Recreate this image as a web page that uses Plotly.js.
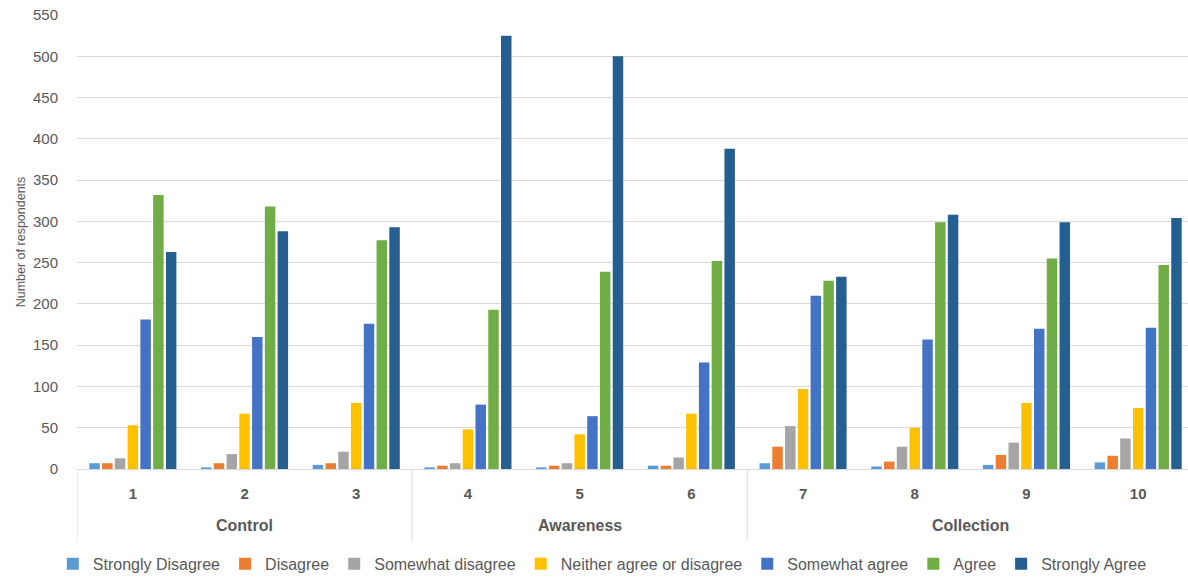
<!DOCTYPE html>
<html>
<head>
<meta charset="utf-8">
<script src="https://cdn.plot.ly/plotly-3.0.1.min.js"></script>
<style>
  html, body { margin: 0; padding: 0; background: #ffffff; }
  #chart { width: 1188px; height: 578px; }
</style>
</head>
<body>
<div id="chart"></div>
<script>
// Question numbers along the x axis and the section each belongs to
const questions = ["1", "2", "3", "4", "5", "6", "7", "8", "9", "10"];
const sections = ["Control", "Awareness", "Collection"];
const sectionSpans = [[0, 2], [3, 5], [6, 9]];

// Response counts per answer option, one value per question
const stronglyDisagree = [7, 2, 5, 2, 2, 4, 7, 3, 5, 8];
const disagree         = [7, 7, 7, 4, 4, 4, 27, 9, 17, 16];
const somewhatDisagree = [13, 18, 21, 7, 7, 14, 52, 27, 32, 37];
const neither          = [53, 67, 80, 48, 42, 67, 97, 50, 80, 74];
const somewhatAgree    = [181, 160, 176, 78, 64, 129, 210, 157, 170, 171];
const agree            = [332, 318, 277, 193, 239, 252, 228, 299, 255, 247];
const stronglyAgree    = [263, 288, 293, 525, 500, 388, 233, 308, 299, 304];

const seriesNames = ["Strongly Disagree", "Disagree", "Somewhat disagree",
  "Neither agree or disagree", "Somewhat agree", "Agree", "Strongly Agree"];
const seriesValues = [stronglyDisagree, disagree, somewhatDisagree, neither,
  somewhatAgree, agree, stronglyAgree];
const seriesColors = ["#5B9BD5", "#ED7D31", "#A5A5A5", "#FFC000",
  "#4472C4", "#70AD47", "#255E91"];

const textGrey = "#595959";
const gridGrey = "#d9d9d9";
const baseFont = "Liberation Sans, Arial, sans-serif";

const traces = seriesNames.map((name, i) => ({
  type: "bar",
  name: name,
  x: questions,
  y: seriesValues[i],
  marker: { color: seriesColors[i] },
  hovertemplate: name + ": %{y}<extra>Q%{x}</extra>"
}));

// Section labels under the question numbers, plus divider lines
const annotations = sections.map((s, i) => ({
  text: "<b>" + s + "</b>",
  xref: "x", yref: "paper",
  x: (sectionSpans[i][0] + sectionSpans[i][1]) / 2,
  y: -0.125,
  yanchor: "middle",
  showarrow: false,
  font: { family: baseFont, size: 16, color: textGrey }
}));

const dividerPositions = sectionSpans.map(sp => sp[0] - 0.5).concat([9.5]);
const shapes = dividerPositions.map(xv => ({
  type: "line",
  xref: "x", yref: "paper",
  x0: xv, x1: xv, y0: 0, y1: -0.159,
  line: { color: gridGrey, width: 1 }
}));

const layout = {
  width: 1188,
  height: 578,
  margin: { l: 77, r: 0, t: 15, b: 109, autoexpand: false },
  paper_bgcolor: "#ffffff",
  plot_bgcolor: "#ffffff",
  barmode: "group",
  bargap: 0.2,
  bargroupgap: 0.18,
  font: { family: baseFont, color: textGrey },
  xaxis: {
    type: "category",
    range: [-0.5, 9.446],
    showgrid: false,
    showline: false,
    ticks: "",
    ticklabelstandoff: 14,
    tickfont: { family: baseFont, size: 15, color: textGrey, weight: "bold" },
    fixedrange: true
  },
  yaxis: {
    range: [0, 550],
    dtick: 50,
    tick0: 0,
    showgrid: true,
    gridcolor: gridGrey,
    gridwidth: 1,
    zeroline: true,
    zerolinecolor: gridGrey,
    zerolinewidth: 1,
    showline: false,
    ticks: "",
    ticklabelstandoff: 18,
    tickfont: { family: baseFont, size: 15, color: textGrey },
    title: {
      text: "Number of respondents",
      font: { family: baseFont, size: 12.5, color: textGrey },
      standoff: 4
    },
    fixedrange: true
  },
  showlegend: true,
  legend: {
    orientation: "h",
    xref: "container", yref: "paper",
    x: 0.507, xanchor: "center",
    y: -0.209, yanchor: "middle",
    font: { family: baseFont, size: 16, color: textGrey },
    itemwidth: 30,
    traceorder: "normal"
  },
  annotations: annotations,
  shapes: shapes
};

Plotly.newPlot("chart", traces, layout, { displayModeBar: false, staticPlot: true });
</script>
</body>
</html>
